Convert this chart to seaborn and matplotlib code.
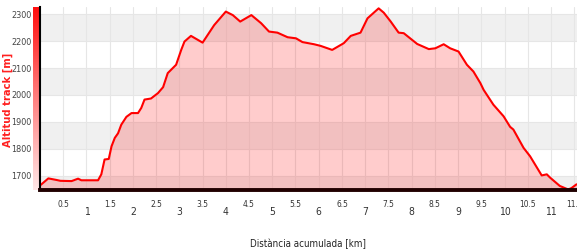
import numpy as np
import pandas as pd
import matplotlib
matplotlib.use('Agg')
import matplotlib.pyplot as plt
import seaborn as sns
from matplotlib.colors import LinearSegmentedColormap

# === Datos del perfil (distancia en km, altitud en m) ===
distancia = [0.0, 0.03, 0.18, 0.36, 0.44, 0.68, 0.82, 0.89, 1.0, 1.25, 1.32, 1.39,
             1.48, 1.54, 1.61, 1.68, 1.75, 1.86, 1.97, 2.11, 2.18, 2.25, 2.39, 2.54,
             2.65, 2.75, 2.82, 2.93, 3.04, 3.11, 3.25, 3.50, 3.75, 4.0, 4.15, 4.31,
             4.55, 4.76, 4.93, 5.11, 5.33, 5.51, 5.65, 5.9, 6.04, 6.29, 6.54, 6.69,
             6.9, 7.05, 7.29, 7.40, 7.55, 7.72, 7.83, 8.12, 8.37, 8.51, 8.69, 8.83,
             9.01, 9.19, 9.33, 9.48, 9.55, 9.76, 9.98, 10.12, 10.19, 10.41, 10.55,
             10.80, 10.91, 10.98, 11.19, 11.37, 11.44, 11.55]
altitud = [1665, 1669, 1691, 1685, 1682, 1681, 1690, 1684, 1684, 1684, 1706, 1761,
           1763, 1810, 1841, 1858, 1890, 1919, 1933, 1933, 1952, 1983, 1987, 2007,
           2029, 2081, 2093, 2112, 2167, 2198, 2219, 2194, 2259, 2309, 2296, 2272,
           2296, 2266, 2235, 2231, 2214, 2210, 2196, 2188, 2182, 2167, 2192, 2219,
           2231, 2284, 2321, 2305, 2272, 2231, 2229, 2189, 2170, 2173, 2188, 2173,
           2161, 2112, 2087, 2044, 2019, 1964, 1921, 1882, 1872, 1804, 1773,
           1702, 1706, 1694, 1663, 1650, 1655, 1669]

ticks_mayores = [1, 2, 3, 4, 5, 6, 7, 8, 9, 10, 11]
ticks_menores = [0.5, 1.5, 2.5, 3.5, 4.5, 5.5, 6.5, 7.5, 8.5, 9.5, 10.5, 11.5]
ticks_y = [1700, 1800, 1900, 2000, 2100, 2200, 2300]
bandas_grises = [(1600, 1700), (1800, 1900), (2000, 2100), (2200, 2300)]

df = pd.DataFrame({'dist': distancia, 'alt': altitud})

sns.set_style('white')
plt.rcParams['font.family'] = ['DejaVu Sans']
plt.rcParams['font.stretch'] = 'condensed'

fig = plt.figure(figsize=(5.77, 2.52), dpi=100)
ax = fig.add_axes([40 / 577, 62 / 252, 537 / 577, 183 / 252])

# Bandas grises alternas
for y0, y1 in bandas_grises:
    ax.axhspan(y0, y1, color='#f0f0f0', zorder=0, lw=0)

# Cuadrícula
for t in ticks_mayores + ticks_menores:
    ax.axvline(t, color='#e6e6e6', lw=0.8, zorder=0.5)
for t in ticks_y:
    ax.axhline(t, color='#e6e6e6', lw=0.8, zorder=0.5)

# Relleno y línea del perfil
ax.fill_between(df['dist'], 1600, df['alt'], color='red', alpha=0.2, lw=0, zorder=1)
sns.lineplot(data=df, x='dist', y='alt', color='#ff0000', lw=1.5, ax=ax, zorder=2)

ax.set_xlim(0, 11.56)
ax.set_ylim(1648, 2326)

# Ejes
for lado in ['top', 'right']:
    ax.spines[lado].set_visible(False)
ax.spines['bottom'].set_color('#200000')
ax.spines['bottom'].set_linewidth(2.8)
ax.spines['left'].set_color('black')
ax.spines['left'].set_linewidth(1.5)
ax.spines['bottom'].set_zorder(3)
ax.spines['left'].set_zorder(3)

ax.set_xticks(ticks_mayores)
ax.set_xticklabels([str(t) for t in ticks_mayores])
ax.set_xticks(ticks_menores, minor=True)
ax.set_xticklabels([str(t) for t in ticks_menores], minor=True)
ax.tick_params(axis='x', which='major', direction='out', length=10.5, width=1.5,
               color='black', pad=2, labelsize=7.5, labelcolor='#333333')
ax.tick_params(axis='x', which='minor', direction='out', length=5, width=1.2,
               color='black', pad=2, labelsize=6, labelcolor='#333333')

ax.set_yticks(ticks_y)
ax.set_yticklabels([str(t) for t in ticks_y])
ax.tick_params(axis='y', which='major', direction='out', length=5, width=1.2,
               color='#600000', pad=1, labelsize=6.5, labelcolor='#444444')

ax.set_xlabel('Distància acumulada [km]', fontsize=7, color='#222222', labelpad=15)
ax.set_ylabel('')

# Banda degradada roja a la izquierda del eje Y
cmap = LinearSegmentedColormap.from_list('rojo', ['#ff1010', '#ff8080', '#ffe6e6'])
ax_banda = fig.add_axes([33 / 577, 62 / 252, 7 / 577, 183 / 252], zorder=-1)
ax_banda.imshow(np.linspace(0, 1, 200).reshape(-1, 1), aspect='auto', cmap=cmap)
ax_banda.set_axis_off()
ax.set_zorder(1)
ax.patch.set_alpha(0)

fig.text(8 / 577, 1 - 100 / 252, 'Altitud track [m]', rotation=90, color='#ff2020',
         fontsize=8, fontweight='bold', ha='center', va='center')

fig.savefig('out.png', dpi=100)
